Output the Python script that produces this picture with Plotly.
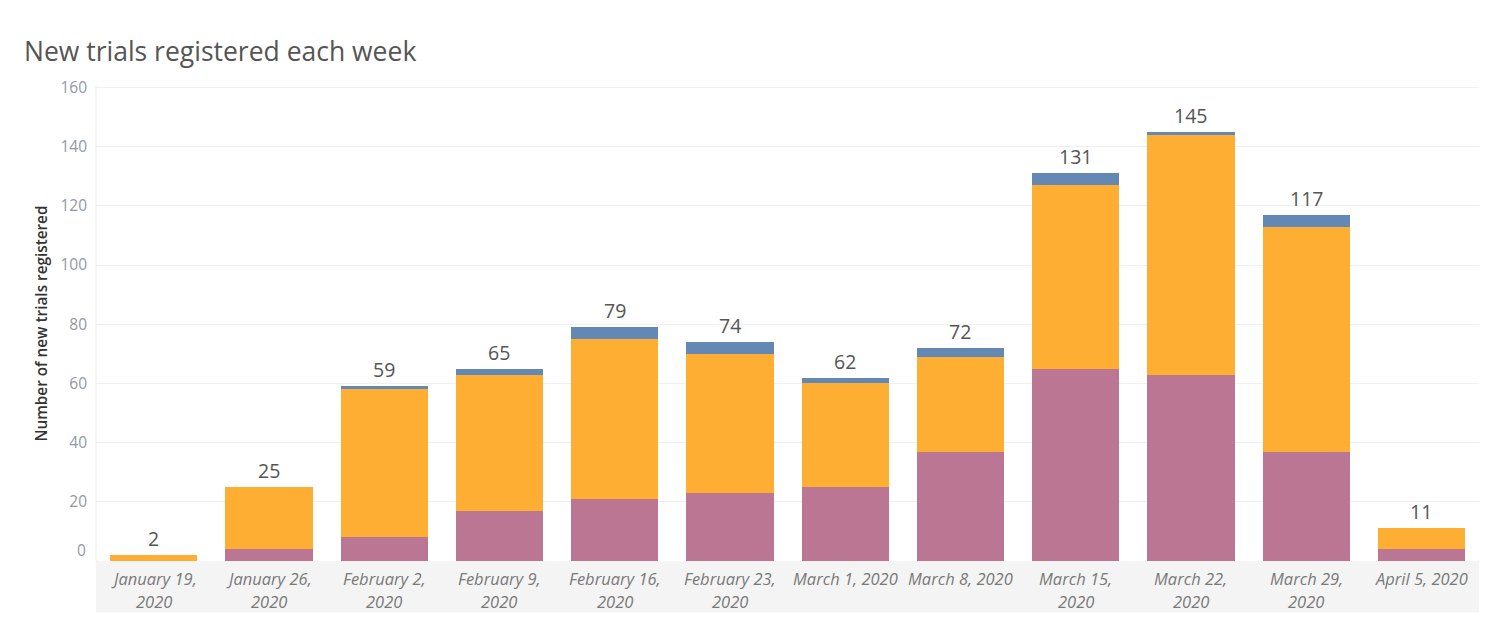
import plotly.graph_objects as go

weeks = ["January 19, 2020", "January 26, 2020", "February 2, 2020", "February 9, 2020",
         "February 16, 2020", "February 23, 2020", "March 1, 2020", "March 8, 2020",
         "March 15, 2020", "March 22, 2020", "March 29, 2020", "April 5, 2020"]
# two-line tick labels as displayed
week_labels = [["January 19,", "2020"], ["January 26,", "2020"], ["February 2,", "2020"],
               ["February 9,", "2020"], ["February 16,", "2020"], ["February 23,", "2020"],
               ["March 1, 2020"], ["March 8, 2020"], ["March 15,", "2020"],
               ["March 22,", "2020"], ["March 29,", "2020"], ["April 5, 2020"]]
purple_vals = [0, 4, 8, 17, 21, 23, 25, 37, 65, 63, 37, 4]
orange_vals = [2, 21, 50, 46, 54, 47, 35, 32, 62, 81, 76, 7]
blue_vals = [0, 0, 1, 2, 4, 4, 2, 3, 4, 1, 4, 0]
totals = [p + o + b for p, o, b in zip(purple_vals, orange_vals, blue_vals)]
y_ticks = [20, 40, 60, 80, 100, 120, 140, 160]

FONT = "Open Sans"
fig = go.Figure()
for vals, col in [(purple_vals, "#bb7693"), (orange_vals, "#ffae34"), (blue_vals, "#6388b4")]:
    fig.add_trace(go.Bar(x=weeks, y=vals, marker=dict(color=col, line=dict(width=0)),
                         showlegend=False, hoverinfo="skip"))

# grey band under x axis
fig.add_shape(type="rect", xref="paper", yref="paper", x0=0, x1=1, y0=-0.108, y1=0,
              fillcolor="#f4f4f4", line=dict(width=0), layer="below")
# left vertical line
fig.add_shape(type="line", xref="paper", yref="paper", x0=0, x1=0, y0=0, y1=1,
              line=dict(color="#ececec", width=1), layer="below")

ann = []
for w, t in zip(weeks, totals):
    ann.append(dict(x=w, y=t, xref="x", yref="y", text=str(t), showarrow=False,
                    yanchor="bottom", yshift=1, font=dict(family=FONT, size=19.5, color="#555555")))
for w, lines in zip(weeks, week_labels):
    for i, ln in enumerate(lines):
        ann.append(dict(x=w, y=0, xref="x", yref="paper", text=ln, showarrow=False,
                        yanchor="middle", yshift=-17 - 23 * i,
                        font=dict(family=FONT, size=16.5, color="#7a7a7a", style="italic")))
ann.append(dict(x=0, y=0, xref="paper", yref="y", text="0", showarrow=False,
                xanchor="right", xshift=-8, yanchor="middle", yshift=11,
                font=dict(family=FONT, size=15.5, color="#9099a6")))

fig.update_layout(
    width=1492, height=621,
    margin=dict(l=88, r=21, t=78, b=68),
    paper_bgcolor="white", plot_bgcolor="white",
    barmode="stack", bargap=0.243,
    title=dict(text="New trials registered each week", x=0.0107, xanchor="left",
               y=0.929, yanchor="middle",
               font=dict(family=FONT, size=26.5, color="#555555")),
    annotations=ann,
    xaxis=dict(showticklabels=False, showgrid=False, zeroline=False, showline=False, ticks=""),
    yaxis=dict(range=[0, 160.5], tickvals=y_ticks, ticktext=[str(v) for v in y_ticks],
               showgrid=True, gridcolor="#f0f0f0", gridwidth=1, zeroline=False,
               showline=False, ticks="", ticklabelstandoff=8,
               tickfont=dict(family=FONT, size=15.5, color="#9099a6"),
               title=dict(text="Number of new trials registered", standoff=9,
                          font=dict(family=FONT, size=15.3, color="#333333", weight=600))),
)
fig.write_html("out.html")
